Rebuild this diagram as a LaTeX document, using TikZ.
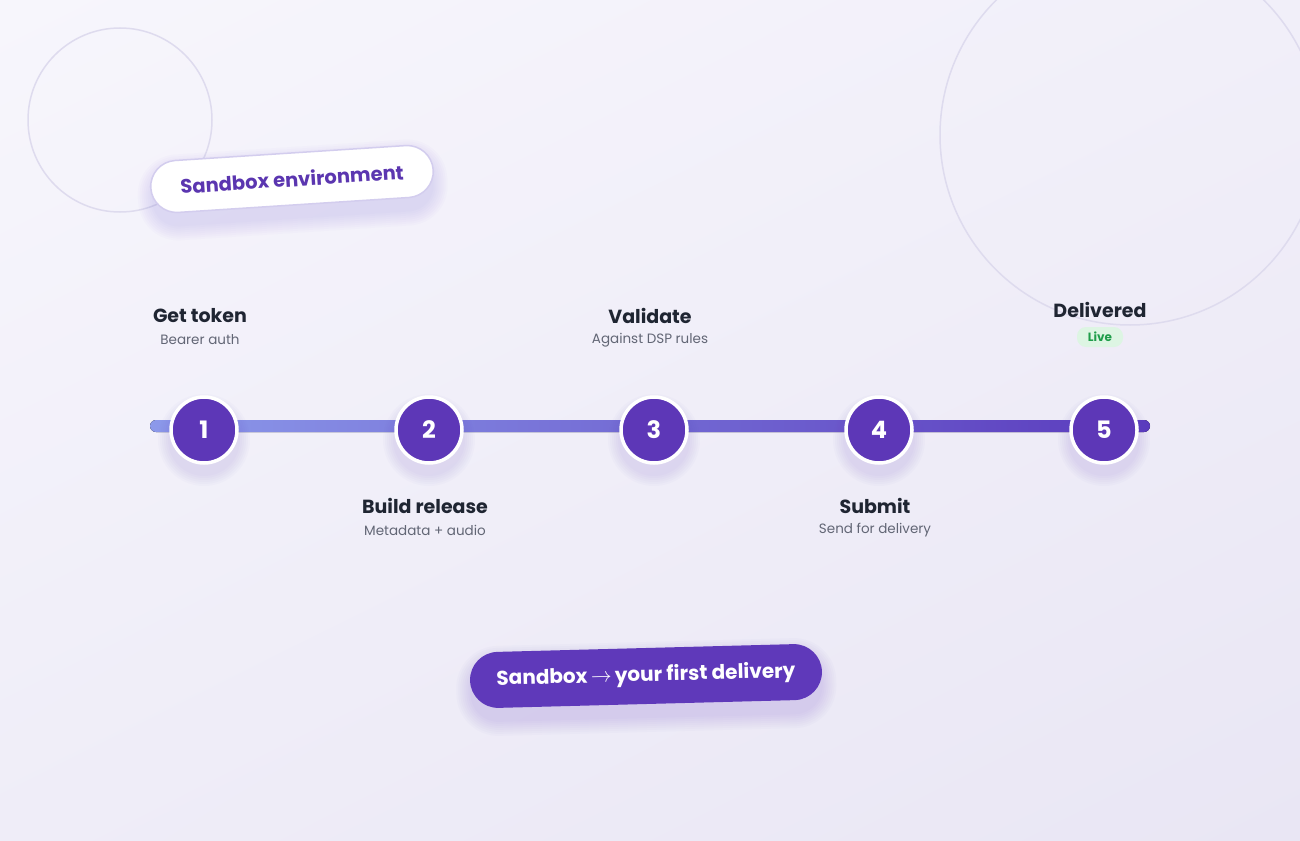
\documentclass[tikz,border=0pt]{standalone}
\usepackage{fontspec}
\usetikzlibrary{shadings}
\setmainfont{Poppins}
\definecolor{bgA}{HTML}{F7F6FC}
\definecolor{bgB}{HTML}{F1EFF9}
\definecolor{bgC}{HTML}{EFEDF8}
\definecolor{bgD}{HTML}{E9E6F4}
\definecolor{decoC}{HTML}{DEDBEE}
\definecolor{titleC}{HTML}{1F2532}
\definecolor{subC}{HTML}{626675}
\definecolor{stepC}{HTML}{5D37B7}
\definecolor{pillC}{HTML}{5F39BA}
\definecolor{pillText}{HTML}{5B36B0}
\definecolor{pillBorder}{HTML}{D3CDEE}
\definecolor{lineL}{HTML}{8C99EA}
\definecolor{lineR}{HTML}{5A3BBD}
\definecolor{shadowC}{HTML}{6A4FC8}
\definecolor{liveBg}{HTML}{DDF5E3}
\definecolor{liveC}{HTML}{1F9D4A}
\tikzset{
  deco/.style={draw=decoC, line width=1.5},
  stepdot/.style={circle, fill=stepC, draw=white, line width=3.5, minimum size=66,
    inner sep=0, text=white, font=\bfseries\fontsize{24}{24}\selectfont},
  title/.style={text=titleC, font=\bfseries\fontsize{19}{21}\selectfont, inner sep=0},
  sub/.style={text=subC, font=\fontsize{13.5}{15}\selectfont, inner sep=0},
  live/.style={fill=liveBg, text=liveC, rounded corners=9, minimum width=46, minimum height=20,
    inner sep=0, font=\bfseries\fontsize{12}{12}\selectfont},
  whitepill/.style={fill=white, draw=pillBorder, line width=1.5, rounded corners=26,
    minimum width=283, minimum height=52, inner sep=0, text=pillText,
    font=\bfseries\fontsize{19.5}{19.5}\selectfont},
  purplepill/.style={fill=pillC, rounded corners=28, minimum width=352, minimum height=56,
    inner sep=0, text=white, font=\bfseries\fontsize{20}{20}\selectfont},
  shadowlayer/.style={fill=shadowC, fill opacity=0.018}
}
\begin{document}
\begin{tikzpicture}[x=1pt,y=-1pt]
\useasboundingbox (0,0) rectangle (1300,840);
\shade[upper left=bgA, upper right=bgB, lower left=bgC, lower right=bgD] (0,0) rectangle (1300,840);
% decorative circles
\draw[deco] (120,120) circle (92);
\draw[deco] (1130,135) circle (190);

% sandbox environment pill
\begin{scope}[shift={(292,179)}, rotate=3.7]
  \foreach \i in {0,2,...,14} {
    \fill[shadowlayer, rounded corners=26+\i] (-141-\i,-18-\i) rectangle (141+\i,40+\i);
  }
\end{scope}
\node[whitepill, rotate=3.7] (env) at (292,179) {Sandbox environment};

% timeline line
\coordinate (lstart) at (150,420);
\coordinate (lend) at (1150,432);
\fill[left color=lineL, right color=lineR, rounded corners=6] (lstart) rectangle (lend);

% step circles with shadows
\foreach \x in {204,429,654,879,1104} {
  \foreach \r in {36,38,...,46} {
    \fill[shadowlayer, fill opacity=0.022] (\x,440) circle (\r);
  }
}
\node[stepdot] (s1) at (204,430) {1};
\node[stepdot] (s2) at (429,430) {2};
\node[stepdot] (s3) at (654,430) {3};
\node[stepdot] (s4) at (879,430) {4};
\node[stepdot] (s5) at (1104,430) {5};

% labels
\node[title] (t1) at (200,316) {Get token};
\node[sub] (u1) at (200,340) {Bearer auth};
\node[title] (t2) at (425,506) {Build release};
\node[sub] (u2) at (425,530) {Metadata + audio};
\node[title] (t3) at (650,316) {Validate};
\node[sub] (u3) at (650,340) {Against DSP rules};
\node[title] (t4) at (875,506) {Submit};
\node[sub] (u4) at (875,530) {Send for delivery};
\node[title] (t5) at (1100,310) {Delivered};
\node[live] (l5) at (1100,337) {Live};

% bottom pill
\begin{scope}[shift={(646,676)}, rotate=1.5]
  \foreach \i in {0,2,...,14} {
    \fill[shadowlayer, fill opacity=0.022, rounded corners=28+\i] (-176-\i,-20-\i) rectangle (176+\i,42+\i);
  }
\end{scope}
\node[purplepill, rotate=1.5] (cta) at (646,676) {Sandbox\,$\rightarrow$\,your first delivery};
\end{tikzpicture}
\end{document}
